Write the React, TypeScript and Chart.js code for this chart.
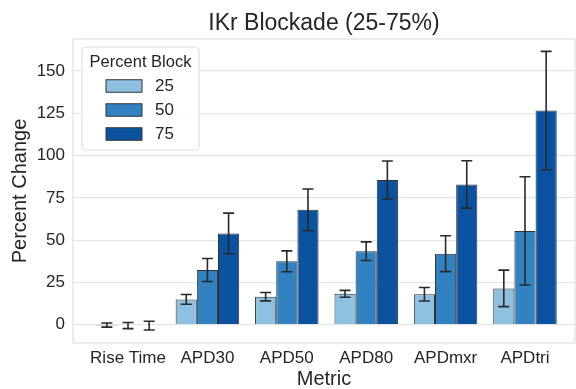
import React, { useEffect, useRef } from 'react';
import { Chart, registerables } from 'chart.js';
Chart.register(...registerables);

const categories = ['Rise Time', 'APD30', 'APD50', 'APD80', 'APDmxr', 'APDtri'];
const blockLabels = ['25', '50', '75'];
const block25 = [-0.2, 15.0, 16.6, 18.3, 18.0, 21.5];
const block50 = [-0.5, 32.4, 37.5, 43.5, 42.0, 55.5];
const block75 = [-0.5, 54.0, 68.0, 85.6, 83.0, 126.7];
const err25 = [1.2, 2.9, 2.5, 2.0, 4.0, 10.8];
const err50 = [1.8, 6.8, 6.2, 5.5, 10.6, 32.0];
const err75 = [2.6, 12.0, 12.3, 11.2, 14.0, 35.0];
const yTicks = [0, 25, 50, 75, 100, 125, 150];
const colors = ['#8ec0e1', '#3282c1', '#0b53a0'];

const FONT = "'Liberation Sans', Arial, sans-serif";
const TEXT = '#262626';

export default function App() {
  const ref = useRef<HTMLCanvasElement>(null);
  useEffect(() => {
    document.body.style.margin = '0';
    const canvas = ref.current!;
    const series = [block25, block50, block75];
    const errs = [err25, err50, err75];

    const frame = {
      id: 'frame',
      beforeDatasetsDraw(chart: any) {
        const { ctx, chartArea: a } = chart;
        ctx.save();
        ctx.strokeStyle = '#e2e2e2';
        ctx.lineWidth = 1.3;
        ctx.strokeRect(a.left, a.top, a.right - a.left, a.bottom - a.top);
        ctx.restore();
      },
    };

    const errorBars = {
      id: 'errorBars',
      afterDatasetsDraw(chart: any) {
        const { ctx } = chart;
        const yScale = chart.scales.y;
        ctx.save();
        ctx.strokeStyle = '#2a2a2a';
        ctx.lineWidth = 1.6;
        chart.data.datasets.forEach((ds: any, i: number) => {
          const meta = chart.getDatasetMeta(i);
          meta.data.forEach((el: any, j: number) => {
            const v = series[i][j];
            const e = errs[i][j];
            const x = el.x;
            const y1 = yScale.getPixelForValue(v + e);
            const y2 = yScale.getPixelForValue(v - e);
            const cw = 5.5;
            ctx.beginPath();
            ctx.moveTo(x, y1);
            ctx.lineTo(x, y2);
            ctx.moveTo(x - cw, y1);
            ctx.lineTo(x + cw, y1);
            ctx.moveTo(x - cw, y2);
            ctx.lineTo(x + cw, y2);
            ctx.stroke();
          });
        });
        ctx.restore();
      },
    };

    const legendBox = {
      id: 'legendBox',
      afterDraw(chart: any) {
        const { ctx } = chart;
        const bx = 82, by = 47, bw = 117, bh = 103, r = 4;
        ctx.save();
        ctx.fillStyle = 'rgba(255,255,255,0.85)';
        ctx.strokeStyle = '#e0e0e0';
        ctx.lineWidth = 1.2;
        ctx.beginPath();
        ctx.moveTo(bx + r, by);
        ctx.lineTo(bx + bw - r, by);
        ctx.arcTo(bx + bw, by, bx + bw, by + r, r);
        ctx.lineTo(bx + bw, by + bh - r);
        ctx.arcTo(bx + bw, by + bh, bx + bw - r, by + bh, r);
        ctx.lineTo(bx + r, by + bh);
        ctx.arcTo(bx, by + bh, bx, by + bh - r, r);
        ctx.lineTo(bx, by + r);
        ctx.arcTo(bx, by, bx + r, by, r);
        ctx.closePath();
        ctx.fill();
        ctx.stroke();
        ctx.fillStyle = TEXT;
        ctx.font = `16.5px ${FONT}`;
        ctx.textAlign = 'center';
        ctx.textBaseline = 'middle';
        ctx.fillText('Percent Block', bx + bw / 2, 62);
        chart.data.datasets.forEach((ds: any, i: number) => {
          const cy = 86 + i * 24;
          ctx.fillStyle = ds.backgroundColor;
          ctx.fillRect(106, cy - 6.25, 36, 12.5);
          ctx.strokeStyle = '#333';
          ctx.lineWidth = 1;
          ctx.strokeRect(106, cy - 6.25, 36, 12.5);
          ctx.fillStyle = TEXT;
          ctx.textAlign = 'left';
          ctx.font = `17px ${FONT}`;
          ctx.fillText(ds.label, 155, cy + 0.5);
        });
        ctx.restore();
      },
    };

    const chart = new Chart(canvas, {
      type: 'bar',
      data: {
        datasets: series.map((s, i) => ({
          label: blockLabels[i],
          data: s.map((v, j) => ({ x: j, y: v })),
          backgroundColor: colors[i],
          borderColor: '#333333',
          borderWidth: 1,
          categoryPercentage: 0.8,
          barPercentage: 1.0,
        })),
      },
      options: {
        responsive: false,
        animation: false,
        devicePixelRatio: 1,
        layout: { padding: { left: 0, right: 1, top: 0, bottom: 0 } },
        plugins: {
          legend: { display: false },
          tooltip: { enabled: false },
          title: {
            display: true,
            fullSize: false,
            text: 'IKr Blockade (25-75%)',
            color: TEXT,
            font: { family: FONT, size: 23, weight: 'normal', lineHeight: 1.2 },
            padding: { top: 10, bottom: 1.4 },
          },
        },
        scales: {
          x: {
            type: 'linear',
            min: -0.693,
            max: 5.63,
            offset: false,
            grid: { display: false, drawTicks: false, offset: false },
            border: { display: false },
            afterBuildTicks: (scale: any) => {
              scale.ticks = categories.map((_, i) => ({ value: i }));
            },
            afterFit: (scale: any) => {
              scale.height = 46;
            },
            ticks: {
              autoSkip: false,
              maxRotation: 0,
              padding: 5,
              color: TEXT,
              font: { family: FONT, size: 17 },
              callback: (v: any) => categories[Math.round(v)] ?? '',
            },
            title: {
              display: true,
              text: 'Metric',
              color: TEXT,
              font: { family: FONT, size: 20, lineHeight: 1 },
              padding: { top: 0, bottom: 0 },
            },
          },
          y: {
            type: 'linear',
            min: -10.8,
            max: 169,
            grid: { color: '#e6e6e6', lineWidth: 1.3, drawTicks: false },
            border: { display: false },
            afterBuildTicks: (scale: any) => {
              scale.ticks = yTicks.map((v) => ({ value: v }));
            },
            afterFit: (scale: any) => {
              scale.width = 73;
            },
            ticks: {
              padding: 8,
              color: TEXT,
              font: { family: FONT, size: 17 },
            },
            title: {
              display: true,
              text: 'Percent Change',
              color: TEXT,
              font: { family: FONT, size: 20, lineHeight: 1 },
              padding: { top: 10, bottom: 0 },
            },
          },
        },
      } as any,
      plugins: [frame, errorBars, legendBox],
    });
    return () => chart.destroy();
  }, []);
  return (
    <div style={{ position: 'absolute', left: 0, top: 0, width: 576, height: 389, background: '#fff' }}>
      <canvas ref={ref} width={576} height={389} style={{ display: 'block' }} />
    </div>
  );
}
